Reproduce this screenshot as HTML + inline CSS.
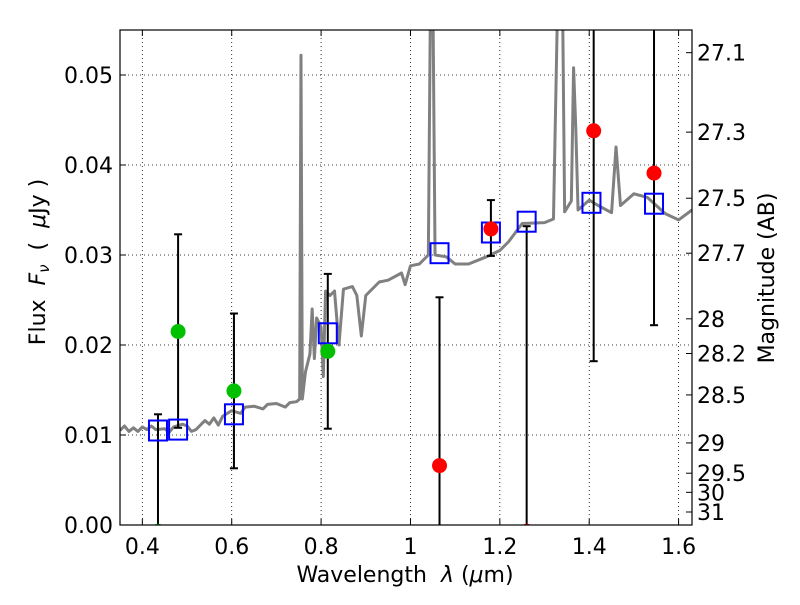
<!DOCTYPE html>
<html><head><meta charset="utf-8"><style>
body{margin:0;background:#fff;}
svg text{font-family:"DejaVu Sans","Liberation Sans",sans-serif;fill:#000;}
</style></head><body>
<svg id="chart" width="800" height="600" xmlns="http://www.w3.org/2000/svg"></svg>
<script>
const specLam=[0.35,0.36,0.37,0.38,0.39,0.40,0.41,0.42,0.43,0.45,0.46,0.47,0.49,0.5,0.51,0.52,0.54,0.55,0.56,0.57,0.58,0.6,0.62,0.63,0.65,0.67,0.68,0.7,0.72,0.73,0.745,0.752,0.755,0.758,0.765,0.775,0.78,0.785,0.79,0.8,0.805,0.81,0.82,0.83,0.84,0.85,0.87,0.88,0.89,0.9,0.93,0.95,0.98,0.988,1.0,1.02,1.04,1.045,1.05,1.055,1.08,1.1,1.13,1.17,1.2,1.22,1.25,1.3,1.32,1.33,1.34,1.345,1.36,1.365,1.37,1.375,1.4,1.42,1.45,1.46,1.47,1.5,1.53,1.57,1.6,1.63];
const specFlux=[0.0105,0.0110,0.0104,0.0108,0.0104,0.0109,0.0106,0.0110,0.0106,0.0107,0.0103,0.0109,0.0112,0.0110,0.0104,0.0106,0.0116,0.0112,0.0119,0.0111,0.0121,0.0127,0.0124,0.0131,0.0132,0.0129,0.0134,0.0135,0.0131,0.0136,0.0137,0.0140,0.0522,0.0140,0.0170,0.0190,0.0240,0.0185,0.0230,0.0220,0.0165,0.0260,0.0255,0.0260,0.0200,0.0262,0.0265,0.0255,0.0210,0.0255,0.0270,0.0272,0.0280,0.0267,0.0288,0.0290,0.0300,0.0600,0.0600,0.0300,0.0298,0.0290,0.0290,0.0298,0.0305,0.0315,0.0335,0.0336,0.0340,0.0600,0.0600,0.0348,0.0360,0.0508,0.0440,0.0350,0.0361,0.0355,0.0347,0.0420,0.0355,0.0368,0.0364,0.0346,0.0339,0.0350];
const greenLam=[0.435,0.48,0.605,0.815];
const greenFlux=[-0.0007,0.0215,0.0149,0.0193];
const greenLo=[-0.01,0.0108,0.0063,0.0107];
const greenHi=[0.0123,0.0323,0.0235,0.0279];
const redLam=[1.065,1.18,1.26,1.41,1.545];
const redFlux=[0.0066,0.0329,-0.0007,0.0438,0.0391];
const redLo=[-0.01,0.0299,-0.01,0.0182,0.0222];
const redHi=[0.0253,0.0361,0.0332,0.07,0.07];
const modelLam=[0.435,0.48,0.605,0.815,1.065,1.18,1.26,1.405,1.545];
const modelFlux=[0.0105,0.0106,0.0123,0.0213,0.0302,0.0325,0.0337,0.0358,0.0357];
const xTicks=[0.4,0.6,0.8,1.0,1.2,1.4,1.6];
const xTickLabels=["0.4","0.6","0.8","1","1.2","1.4","1.6"];
const yTicks=[0,0.01,0.02,0.03,0.04,0.05];
const yTickLabels=["0.00","0.01","0.02","0.03","0.04","0.05"];
const magTicks=[27.1,27.3,27.5,27.7,28,28.2,28.5,29,29.5,30,31];

const L=120,R=692,T=30,B=525,XMIN=0.35,XMAX=1.63,YMIN=0,YMAX=0.055;
const X=v=>L+(v-XMIN)/(XMAX-XMIN)*(R-L);
const Y=v=>B-(v-YMIN)/(YMAX-YMIN)*(B-T);
const NS="http://www.w3.org/2000/svg";
const svg=document.getElementById('chart');
function mk(tag,attrs,parent){const e=document.createElementNS(NS,tag);for(const k in attrs)e.setAttribute(k,attrs[k]);(parent||svg).appendChild(e);return e;}
const defs=mk('defs',{});const cp=mk('clipPath',{id:'clip'},defs);mk('rect',{x:L,y:T,width:R-L,height:B-T},cp);
mk('rect',{x:0,y:0,width:800,height:600,fill:'#fff'});
const grid=mk('g',{stroke:'#000','stroke-width':0.8,'stroke-dasharray':'1,3'});


xTicks.forEach((t,i)=>{
  mk('line',{x1:X(t),x2:X(t),y1:T,y2:B},grid);
  mk('line',{x1:X(t),x2:X(t),y1:B,y2:B-6,stroke:'#000'});
  mk('line',{x1:X(t),x2:X(t),y1:T,y2:T+6,stroke:'#000'});
  const tx=mk('text',{x:X(t),y:554,'font-size':22,'text-anchor':'middle'});tx.textContent=xTickLabels[i];
  
  
});
yTicks.forEach((t,i)=>{
  mk('line',{x1:L,x2:R,y1:Y(t),y2:Y(t)},grid);
  mk('line',{x1:L,x2:L+6,y1:Y(t),y2:Y(t),stroke:'#000'});
  const tx=mk('text',{x:113,y:Y(t)+8,'font-size':22,'text-anchor':'end'});tx.textContent=yTickLabels[i];
  
  
});
magTicks.forEach(m=>{
  const f=Math.pow(10,(23.9-m)/2.5);const y=Y(f);
  mk('line',{x1:R-6,x2:R,y1:y,y2:y,stroke:'#000'});
  const tx=mk('text',{x:697,y:y+8,'font-size':22});tx.textContent=String(m);
  
  
});
const pg=mk('g',{'clip-path':'url(#clip)'});
const sp=mk('polyline',{points:specLam.map((l,i)=>X(l)+','+Y(specFlux[i])).join(' '),fill:'none',stroke:'#808080','stroke-width':3,'stroke-linejoin':'round'},pg);


function errbar(l,lo,hi){
  const g=mk('g',{stroke:'#000','stroke-width':2},pg);
  
  
  mk('line',{x1:X(l),x2:X(l),y1:Y(lo),y2:Y(hi)},g);
  mk('line',{x1:X(l)-4,x2:X(l)+4,y1:Y(lo),y2:Y(lo)},g);
  mk('line',{x1:X(l)-4,x2:X(l)+4,y1:Y(hi),y2:Y(hi)},g);
}
greenLam.forEach((l,i)=>errbar(l,greenLo[i],greenHi[i]));
redLam.forEach((l,i)=>errbar(l,redLo[i],redHi[i]));
modelLam.forEach((l,i)=>{
  const r=mk('rect',{x:X(l)-9,y:Y(modelFlux[i])-10,width:18,height:20,fill:'none',stroke:'#0000ff','stroke-width':2},pg);
  
  
});
greenLam.forEach((l,i)=>{
  const c=mk('circle',{cx:X(l),cy:Y(greenFlux[i]),r:7.5,fill:'#00c000'},pg);
  
  
});
redLam.forEach((l,i)=>{
  const c=mk('circle',{cx:X(l),cy:Y(redFlux[i]),r:7.5,fill:'#ff0000'},pg);
  
  
});
const fr=mk('rect',{x:L,y:T,width:R-L,height:B-T,fill:'none',stroke:'#000','stroke-width':1.2});


</script>
<svg width="800" height="600" style="position:absolute;left:0;top:0" xmlns="http://www.w3.org/2000/svg">
<text x="405" y="582" font-size="22" text-anchor="middle" xml:space="preserve" style="font-family:'DejaVu Sans',sans-serif">Wavelength  <tspan font-style="italic">λ</tspan> (<tspan font-style="italic">μ</tspan>m)</text>
<text transform="translate(45,262) rotate(-90)" font-size="22" text-anchor="middle" xml:space="preserve" style="font-family:'DejaVu Sans',sans-serif">Flux  <tspan font-style="italic">F</tspan><tspan font-style="italic" font-size="15" dy="4">ν</tspan><tspan dy="-4">  (  </tspan><tspan font-style="italic">μ</tspan>Jy )</text>
<text transform="translate(774,278) rotate(-90)" font-size="22" text-anchor="middle" style="font-family:'DejaVu Sans',sans-serif">Magnitude (AB)</text>
</svg>
</body></html>
